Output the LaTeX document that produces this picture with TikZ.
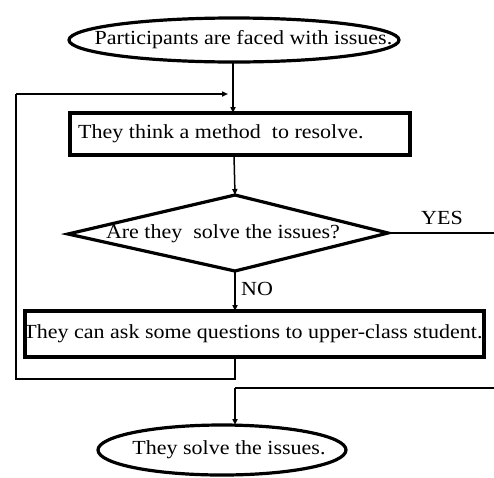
\documentclass[tikz,border=0pt]{standalone}
\usepackage{fontspec}
\setmainfont[FakeStretch=1.1]{Liberation Serif}
\usetikzlibrary{shapes.geometric,arrows.meta}
\begin{document}
\begin{tikzpicture}[x=1pt,y=-1pt,
  every node/.style={font=\fontsize{20}{24}\selectfont, inner sep=0pt},
  term/.style={draw, ellipse, line width=3.2pt},
  procbox/.style={draw, rectangle, line width=3.2pt},
  conn/.style={line width=1.5pt},
  arr/.style={conn, -{Triangle[length=6pt,width=5pt]}}]
\useasboundingbox (0,0) rectangle (494,477);
% nodes
\node[term, minimum width=330, minimum height=44] (start) at (234,40) {};
\node (starttext) at (243.5,40) {Participants are faced with issues.};
\node[procbox, minimum width=340, minimum height=42] (think) at (240,134) {};
\node[anchor=west] (thinktext) at (78,134) {They think a method\ \ to resolve.};
% diamond
\coordinate (dt) at (235,195);
\coordinate (dl) at (68,234);
\coordinate (dr) at (388,233);
\coordinate (db) at (235,271);
\draw[line width=3.2pt, line join=miter] (dt) -- (dr) -- (db) -- (dl) -- cycle;
\node (dtext) at (223,234) {Are they\ \ solve the issues?};
\node[procbox, minimum width=459, minimum height=46] (ask) at (254.5,334) {};
\node (asktext) at (253,334) {They can ask some questions to upper-class student.};
\node[term, minimum width=248, minimum height=50] (end) at (222,450) {};
\node (endtext) at (229,450) {They solve the issues.};
\node (yes) at (442,218) {YES};
\node[anchor=west] (no) at (241,289) {NO};
% connector points
\coordinate (fbl) at (16,94);
\coordinate (fbb) at (16,379);
\coordinate (fbt) at (228,94);
\coordinate (yesend) at (494,233);
\coordinate (retr) at (494,388);
\coordinate (retc) at (235,388);
% connectors
\draw[arr] (233,62) -- (233,113);
\draw[arr] (234,155) -- (dt);
\draw[arr] (db) -- (235,311);
\draw[conn] (235,357) -- (235,379) -- (fbb) -- (fbl);
\draw[arr] (fbl) -- (fbt);
\draw[conn] (dr) -- (yesend);
\draw[conn] (retr) -- (retc);
\draw[arr] (retc) -- (235,425);
\end{tikzpicture}
\end{document}
